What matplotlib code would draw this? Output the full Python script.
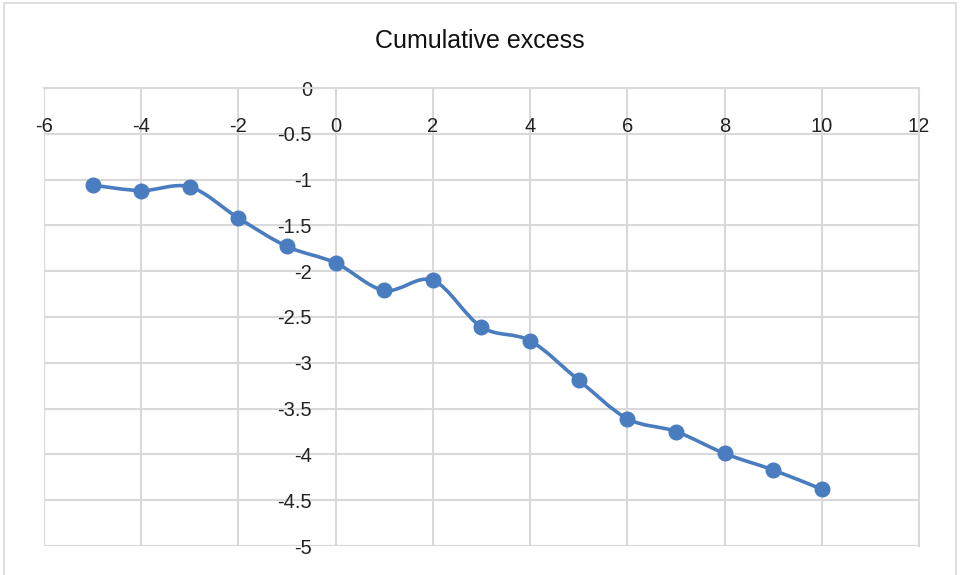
import matplotlib
matplotlib.use('Agg')
import matplotlib.pyplot as plt
from matplotlib.path import Path
from matplotlib.patches import PathPatch, Rectangle

# data
x_vals = [-5, -4, -3, -2, -1, 0, 1, 2, 3, 4, 5, 6, 7, 8, 9, 10]
y_vals = [-1.06, -1.12, -1.08, -1.42, -1.73, -1.91, -2.21, -2.10,
          -2.61, -2.76, -3.19, -3.61, -3.75, -3.99, -4.17, -4.38]
x_ticks = [-6, -4, -2, 0, 2, 4, 6, 8, 10, 12]
y_ticks = [0, -0.5, -1, -1.5, -2, -2.5, -3, -3.5, -4, -4.5, -5]
title = 'Cumulative excess'

LINE_COLOR = '#4a7cc0'
GRID_COLOR = '#d9d9d9'

plt.rcParams['font.family'] = ['Liberation Sans', 'DejaVu Sans']


def smooth_path(xs, ys):
    """Bezier path through the points, similar to Excel's smoothed line."""
    pts = list(zip(xs, ys))
    verts = [pts[0]]
    codes = [Path.MOVETO]
    n = len(pts)
    for i in range(n - 1):
        p0 = pts[i - 1] if i > 0 else pts[i]
        p1 = pts[i]
        p2 = pts[i + 1]
        p3 = pts[i + 2] if i + 2 < n else pts[i + 1]
        c1 = (p1[0] + (p2[0] - p0[0]) / 6, p1[1] + (p2[1] - p0[1]) / 6)
        c2 = (p2[0] - (p3[0] - p1[0]) / 6, p2[1] - (p3[1] - p1[1]) / 6)
        verts += [c1, c2, p2]
        codes += [Path.CURVE4] * 3
    return Path(verts, codes)


fig = plt.figure(figsize=(9.6, 5.75), dpi=100)
fig.patches.append(Rectangle((4 / 960, -0.01), 952 / 960, 1 - 3 / 575 + 0.01,
                             transform=fig.transFigure, fill=False,
                             edgecolor='#d9d9d9', linewidth=1.2))

ax = fig.add_axes([44 / 960, 1 - 546 / 575, 875 / 960, 458 / 575])
ax.set_xlim(-6, 12)
ax.set_ylim(-5, 0)
ax.set_xticks(x_ticks)
ax.set_yticks(y_ticks)
ax.set_xticklabels([f'{t:g}' for t in x_ticks])
ax.set_yticklabels([f'{t:g}' for t in y_ticks])

ax.grid(True, color=GRID_COLOR, linewidth=1.5)
ax.set_axisbelow(True)

for side in ['top', 'right', 'left', 'bottom']:
    ax.spines[side].set_color(GRID_COLOR)
    ax.spines[side].set_linewidth(1.5)
ax.spines['bottom'].set_position(('data', 0))
ax.spines['left'].set_position(('data', 0))
ax.spines['bottom'].set_visible(False)
ax.spines['left'].set_visible(False)

ax.tick_params(axis='x', length=0, pad=21, labelsize=14.5, colors='#222222')
ax.tick_params(axis='y', length=0, pad=17, labelsize=14.5, colors='#222222')

# frame lines at the axis limits
ax.axhline(-5, color=GRID_COLOR, linewidth=1.5, zorder=0)
ax.axvline(-6, color=GRID_COLOR, linewidth=1.5, zorder=0)

ax.add_patch(PathPatch(smooth_path(x_vals, y_vals), facecolor='none',
                       edgecolor=LINE_COLOR, linewidth=2.6, zorder=3,
                       capstyle='round', joinstyle='round'))
ax.plot(x_vals, y_vals, linestyle='none', marker='o', markersize=10.5,
        color=LINE_COLOR, zorder=4)

fig.text(0.5, 1 - 41 / 575, title, ha='center', va='center', fontsize=18,
         color='#111111')

fig.savefig('out.png', dpi=100)
